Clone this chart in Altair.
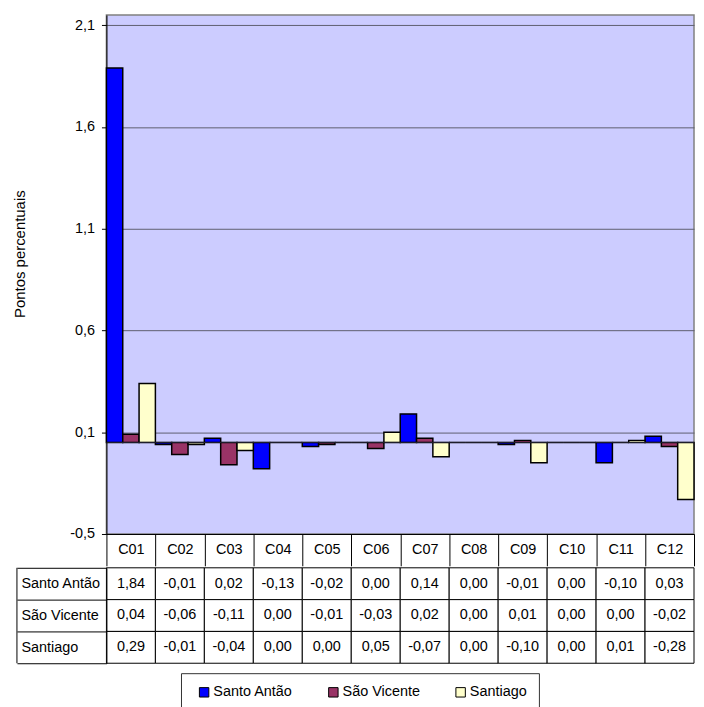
import altair as alt
import pandas as pd

categories = ["C01", "C02", "C03", "C04", "C05", "C06", "C07", "C08", "C09", "C10", "C11", "C12"]
series_names = ["Santo Antão", "São Vicente", "Santiago"]
santo_antao = [1.84, -0.01, 0.02, -0.13, -0.02, 0.00, 0.14, 0.00, -0.01, 0.00, -0.10, 0.03]
sao_vicente = [0.04, -0.06, -0.11, 0.00, -0.01, -0.03, 0.02, 0.00, 0.01, 0.00, 0.00, -0.02]
santiago = [0.29, -0.01, -0.04, 0.00, 0.00, 0.05, -0.07, 0.00, -0.10, 0.00, 0.01, -0.28]
series_colors = ["#0000FF", "#993366", "#FFFFCC"]
y_ticks = [-0.45, 0.05, 0.55, 1.05, 1.55, 2.05]
y_domain = [-0.45, 2.1]

rows = []
for name, vals in zip(series_names, [santo_antao, sao_vicente, santiago]):
    for c, v in zip(categories, vals):
        rows.append({"cat": c, "series": name, "value": v,
                     "label": f"{v:.2f}".replace(".", ",")})
df = pd.DataFrame(rows)

FONT = "Liberation Sans, Arial, sans-serif"
FS = 14.5

x_scale = alt.Scale(domain=categories, paddingInner=0, paddingOuter=0)

label_expr = ("replace(replace(format(datum.value + (datum.value < 0 ? -0.001 : 0.001), '.1f'), '.', ','), '\u2212', '-')")

bars = alt.Chart(df).mark_bar(stroke="black", strokeWidth=1.5).encode(
    x=alt.X("cat:N", scale=x_scale, sort=categories,
            axis=alt.Axis(title=None, labelAngle=0, tickBand="extent", tickSize=32,
                          tickColor="black", tickWidth=1, domainColor="black", domainWidth=1,
                          labelBaseline="middle", labelPadding=-16, labelFont=FONT,
                          labelFontSize=FS, labelColor="black", grid=False)),
    xOffset=alt.XOffset("series:N", sort=series_names,
                        scale=alt.Scale(domain=series_names, paddingInner=0, paddingOuter=0)),
    y=alt.Y("value:Q", scale=alt.Scale(domain=y_domain, nice=False),
            axis=alt.Axis(values=y_ticks, labelExpr=label_expr, title="Pontos percentuais",
                          titleFont=FONT, titleFontSize=15, titleFontWeight="normal",
                          titleColor="black", titlePadding=42, titleY=240,
                          grid=True, gridColor="#5f5f70",
                          gridWidth=1, tickSize=5, tickColor="black", domainColor="black",
                          labelFont=FONT, labelFontSize=FS, labelColor="black",
                          labelPadding=7)),
    color=alt.Color("series:N", sort=series_names,
                    scale=alt.Scale(domain=series_names, range=series_colors),
                    legend=alt.Legend(title=None, orient="none", legendX=75, legendY=662,
                                      direction="horizontal", symbolType="square",
                                      symbolSize=90, symbolStrokeColor="black",
                                      symbolStrokeWidth=1, labelFont=FONT, labelFontSize=FS,
                                      labelColor="black", columnPadding=29, padding=12,
                                      symbolOffset=4, strokeColor="#333333", fillColor="white",
                                      labelOffset=2)),
)

zero_line = alt.Chart(pd.DataFrame({"z": [0]})).mark_rule(color="#202030", strokeWidth=1).encode(
    y=alt.datum(0)
)

top = alt.layer(bars, zero_line).properties(
    width=591, height=522,
    view=alt.ViewBackground(fill="#CCCCFF", stroke="#808080", strokeWidth=1.5),
)

table_base = alt.Chart(df).encode(
    x=alt.X("cat:N", scale=x_scale, sort=categories, axis=None),
    y=alt.Y("series:N", sort=series_names,
            scale=alt.Scale(domain=series_names, paddingInner=0, paddingOuter=0),
            axis=alt.Axis(title=None, tickBand="extent", tickSize=90, tickColor="black",
                          tickWidth=1, domainColor="black", labelAlign="left",
                          labelPadding=-4, labelFont=FONT, labelFontSize=FS,
                          labelColor="black", labelBaseline="middle", grid=False)),
)
cells = table_base.mark_rect(fill="white", stroke="black", strokeWidth=1)
cell_text = table_base.mark_text(font=FONT, fontSize=FS, color="black").encode(text="label:N")
left_border = alt.Chart(pd.DataFrame({"z": [0]})).mark_rule(color="black", strokeWidth=1).encode(
    x=alt.value(-90), y=alt.value(0), y2=alt.value(96)
)
table = alt.layer(cells, cell_text, left_border).properties(width=591, height=96)

chart = alt.vconcat(top, table, spacing=-8).properties(
    padding={"left": 4, "top": 4, "right": 0, "bottom": 0},
    background="white",
).configure_view(strokeWidth=0)

chart.save("out.html", embed_options={"renderer": "svg", "actions": False})
